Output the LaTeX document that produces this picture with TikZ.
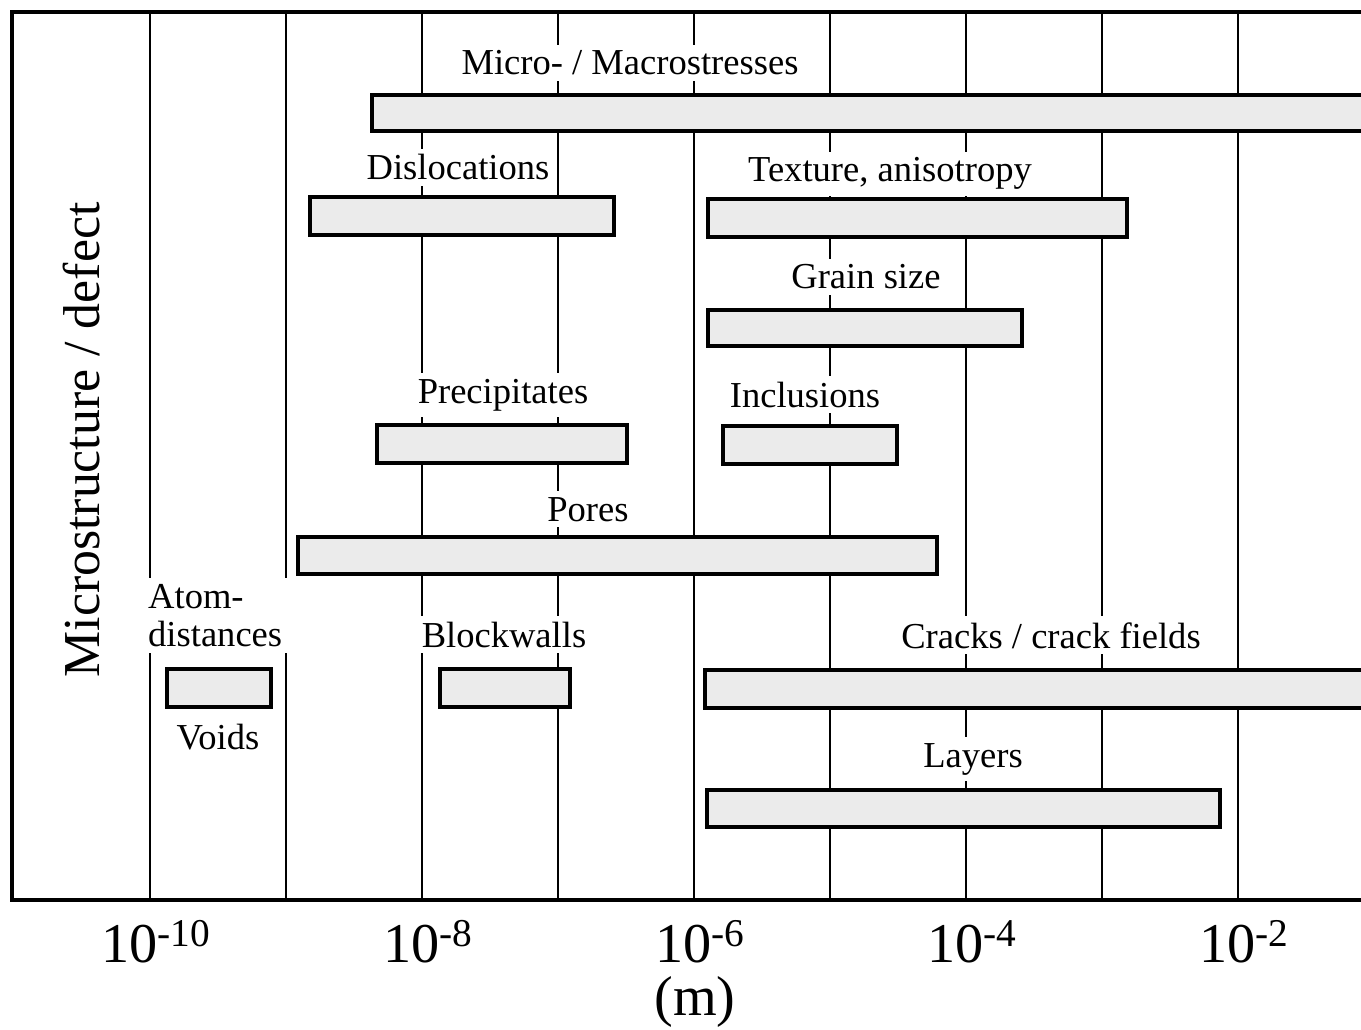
\documentclass[tikz,border=0pt]{standalone}
\usepackage{fontspec}
\setmainfont{Liberation Serif}
\tikzset{
  frame/.style={line width=1.9pt},
  gridline/.style={line width=1.3pt},
  bar/.style={line width=1.9pt, fill=black!8},
  lbl/.style={fill=white, anchor=base, font=\fontsize{20.8}{21.6}\selectfont},
  ticklbl/.style={font=\fontsize{32}{36}\selectfont},
}
\begin{document}
\begin{tikzpicture}[x=0.02cm,y=-0.02cm]
	\useasboundingbox (0,0) rectangle (1361,1030);
	\clip (0,0) rectangle (1361,1030);
	% frame and decade lines
	\draw[frame] (1380,12) -- (12,12) -- (12,900) -- (1380,900);
	\foreach \k in {0,...,8}
	  \draw[gridline] ({150+136*\k},12) -- ({150+136*\k},900);
	% labels
	\node[lbl] (macro) at (630,75) {Micro- / Macrostresses};
	\node[lbl] (disl) at (458,180) {Dislocations};
	\node[lbl] (text) at (890,182) {Texture, anisotropy};
	\node[lbl] (grain) at (866,289) {Grain size};
	\node[lbl] (prec) at (503,403) {Precipitates};
	\node[lbl] (incl) at (805,407) {Inclusions};
	\node[lbl] (pores) at (588,521) {Pores};
	\node[lbl, anchor=north west, align=left] (atom) at (142,578) {Atom-\\distances};
	\node[lbl] (voids) at (218,749) {Voids};
	\node[lbl] (block) at (504,647) {Blockwalls};
	\node[lbl] (cracks) at (1051,648) {Cracks / crack fields};
	\node[lbl] (layers) at (973,767) {Layers};
	% bars
	\draw[bar] (372,95) rectangle (1380,131);
	\draw[bar] (310,197) rectangle (614,235);
	\draw[bar] (708,199) rectangle (1127,237);
	\draw[bar] (708,310) rectangle (1022,346);
	\draw[bar] (377,425) rectangle (627,463);
	\draw[bar] (723,426) rectangle (897,464);
	\draw[bar] (298,537) rectangle (937,574);
	\draw[bar] (167,669) rectangle (271,707);
	\draw[bar] (440,669) rectangle (570,707);
	\draw[bar] (705,670) rectangle (1380,708);
	\draw[bar] (707,790) rectangle (1220,827);
	% axes
	\node[rotate=90, font=\fontsize{29.5}{32}\selectfont] (ylab) at (82,440) {Microstructure / defect};
	\foreach \e/\k in {-10/0,-8/2,-6/4,-4/6,-2/8}
	  \node[ticklbl] (t\k) at ({156+136*\k},942) {10\textsuperscript{\e}};
	\node[ticklbl] (unit) at (695,1002) {(m)};
\end{tikzpicture}
\end{document}
